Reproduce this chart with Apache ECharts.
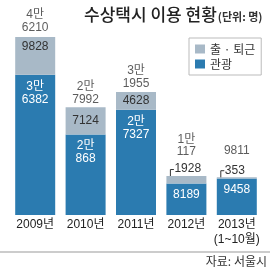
<!DOCTYPE html>
<html><head><meta charset="utf-8">
<script src="https://cdn.jsdelivr.net/npm/echarts@6/dist/echarts.min.js"></script>
<style>html,body{margin:0;padding:0;background:#fff}#c{width:270px;height:268px}</style>
</head><body><div id="c"></div>
<script>
const categories = ['2009년', '2010년', '2011년', '2012년', '2013년\n(1~10월)'];
const tourism = [36382, 20868, 27327, 8189, 9458];
const commute = [9828, 7124, 4628, 1928, 353];
const totals = [46210, 27992, 31955, 10117, 9811];
const seriesNames = ['출 · 퇴근', '관광'];
const titleText = '수상택시 이용 현황';
const unitText = '(단위: 명)';
const sourceText = '자료: 서울시';

const FONT = "'Liberation Sans', 'Noto Sans CJK KR', sans-serif";
const KFONT = "'Noto Sans CJK KR', sans-serif";
const GRAY = '#a8b9c7', BLUE = '#2b7bb0', DARK = '#333';

function fmt(n) {
  const man = Math.floor(n / 10000), rest = n % 10000;
  return man ? man + '만\n' + rest : String(rest);
}

const totalDist = [3, 0.5, 1.5, 19, 20];
const smallIdx = [3, 4];

const chart = echarts.init(document.getElementById('c'), null, {renderer: 'canvas'});
chart.setOption({
  animation: false,
  backgroundColor: '#fff',
  title: {
    text: '{a|' + titleText + '}{b|' + unitText + '}',
    left: 79, top: 1,
    textStyle: {
      rich: {
        a: {fontSize: 17, fontFamily: KFONT, color: '#222', fontWeight: 500, verticalAlign: 'bottom'},
        b: {fontSize: 11, fontFamily: KFONT, color: '#333', verticalAlign: 'bottom', padding: [0, 0, 1, 1]}
      }
    }
  },
  legend: {
    data: seriesNames,
    orient: 'vertical',
    left: 189, top: 38,
    borderColor: '#bbb', borderWidth: 1,
    padding: [5, 6, 5, 6],
    itemWidth: 10, itemHeight: 9, itemGap: 3,
    icon: 'rect',
    textStyle: {fontSize: 12, fontFamily: KFONT, color: DARK}
  },
  grid: {left: 10, right: 8, top: 37, bottom: 53},
  xAxis: {
    type: 'category', data: categories,
    axisLine: {show: false}, axisTick: {show: false},
    axisLabel: {fontSize: 12, fontFamily: FONT, color: '#222', margin: 2, lineHeight: 15, interval: 0}
  },
  yAxis: {type: 'value', min: 0, max: 46210, show: false, splitLine: {show: false}},
  series: [
    {
      name: seriesNames[1], type: 'bar', stack: 'a', barWidth: 40,
      itemStyle: {color: BLUE},
      label: {
        show: true, position: 'insideTop', distance: 5, color: '#fff',
        fontSize: 12, fontFamily: FONT, lineHeight: 13,
        formatter: p => fmt(p.value)
      },
      data: tourism
    },
    {
      name: seriesNames[0], type: 'bar', stack: 'a', barWidth: 40,
      itemStyle: {color: GRAY},
      label: {
        show: true, position: 'inside', color: DARK,
        fontSize: 12, fontFamily: FONT, formatter: p => String(p.value)
      },
      data: commute.map((v, i) => {
        if (i === 0) return {value: v, label: {position: 'insideTop', distance: 4}};
        if (smallIdx.includes(i)) return {value: v, label: {position: [8, -7], align: 'left', verticalAlign: 'middle'}};
        return v;
      })
    },
    {
      type: 'scatter', symbolSize: 0, silent: true,
      label: {
        show: true, position: 'top', color: DARK,
        fontSize: 12, fontFamily: FONT, lineHeight: 13,
        formatter: p => fmt(p.value[1])
      },
      data: totals.map((v, i) => ({value: [i, v], label: {distance: totalDist[i], lineHeight: i === 3 ? 11.5 : 13}}))
    },
    {
      type: 'custom', silent: true,
      renderItem: (params, api) => {
        const pt = api.coord([api.value(0), api.value(1)]);
        const x = pt[0] - 20 + 4;
        return {
          type: 'polyline',
          shape: {points: [[x, pt[1] + 1], [x, pt[1] - 6.5], [x + 3.5, pt[1] - 6.5]]},
          style: {stroke: DARK, lineWidth: 1, fill: null}
        };
      },
      data: smallIdx.map(i => [i, totals[i]])
    }
  ],
  graphic: [
    {type: 'line', shape: {x1: 0, y1: 252, x2: 270, y2: 252}, style: {stroke: '#ccc', lineWidth: 2}},
    {type: 'text', right: 3, top: 255, style: {text: sourceText, fontSize: 12, fontFamily: KFONT, fill: DARK}}
  ]
});
</script></body></html>
